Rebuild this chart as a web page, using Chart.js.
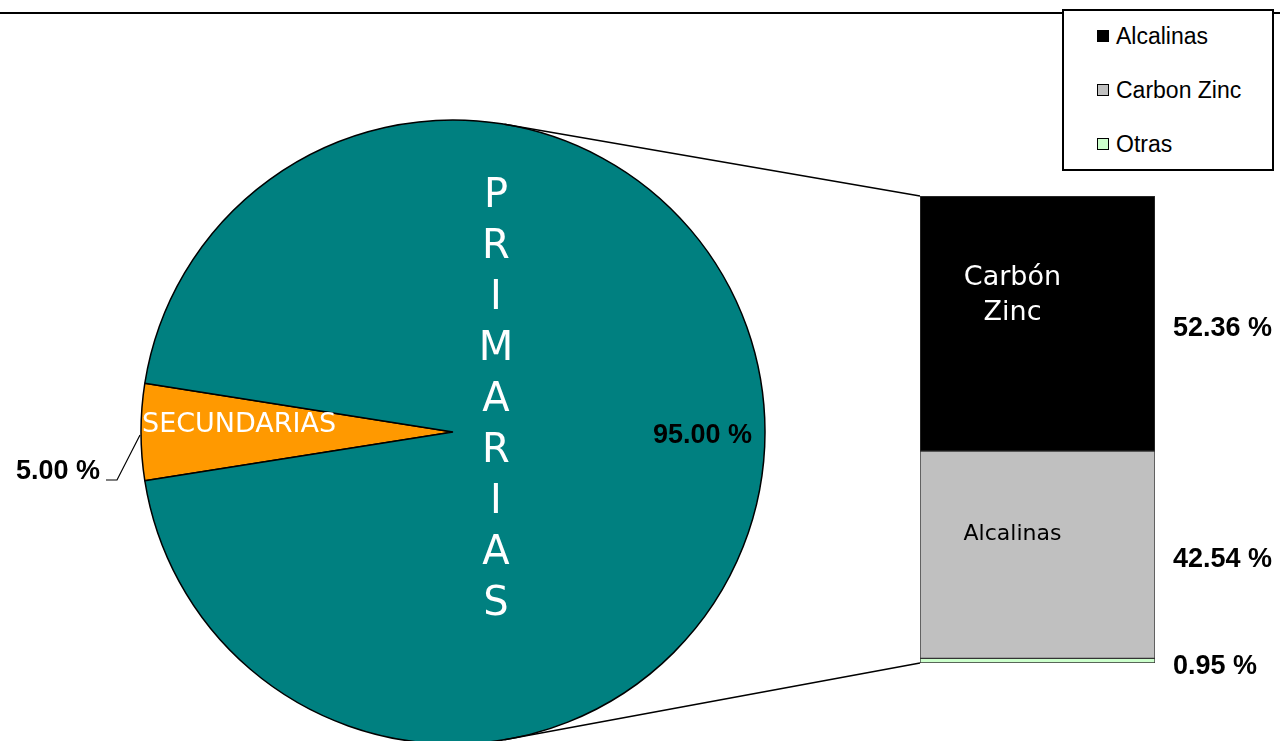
<!DOCTYPE html>
<html>
<head>
<meta charset="utf-8">
<script src="https://cdn.jsdelivr.net/npm/chart.js@4"></script>
<style>
  body { margin: 0; width: 1280px; height: 741px; overflow: hidden; background: #fff; position: relative; font-family: "Liberation Sans", Arial, sans-serif; }
  canvas { position: absolute; left: 0; top: 0; }
  #topLine { position: absolute; left: 0; top: 12px; width: 1280px; height: 2px; background: #000; }
  #legend { position: absolute; left: 1062px; top: 9px; width: 208px; height: 158px; border: 2px solid #000; background: #fff; }
  #legend div { position: absolute; left: 33px; font-size: 23px; color: #000; line-height: 23px; white-space: nowrap; }
  #legend span { display: inline-block; width: 10px; height: 10px; border: 1px solid #000; margin-right: 7px; vertical-align: 2px; }
</style>
</head>
<body>
<div id="topLine"></div>
<canvas id="pieChart" width="1280" height="741"></canvas>
<canvas id="barChart" width="1280" height="741"></canvas>
<div id="legend"></div>
<script>
// pie
const pieLabels = ["SECUNDARIAS", "PRIMARIAS"];
const pieValues = [5.00, 95.00];
const pieColors = ["#FF9900", "#008080"];

// bar (bottom to top)
const barSeries = ["Otras", "Carbon Zinc", "Alcalinas"];
const barValues = [0.95, 42.54, 52.36];
const barInside = ["", "Alcalinas", "Carbón\nZinc"];
const barColors = ["#CCFFCC", "#C0C0C0", "#000000"];

const legendOrder = ["Alcalinas", "Carbon Zinc", "Otras"];

const fmt = v => v.toFixed(2) + " %";

// legend
const legendBox = document.getElementById("legend");
legendOrder.forEach((name, k) => {
    const i = barSeries.indexOf(name);
    const row = document.createElement("div");
    row.style.top = (14 + k * 54) + "px";
    row.innerHTML = '<span style="background:' + barColors[i] + '"></span>' + name;
    legendBox.appendChild(row);
});

const pieText = {
    id: "pieText",
    afterDatasetsDraw(chart) {
        const ctx = chart.ctx;
        const arc = chart.getDatasetMeta(0).data[0];
        const cx = arc.x, cy = arc.y, r = arc.outerRadius;
        ctx.save();
        // secundarias inside slice
        ctx.fillStyle = "#fff";
        ctx.font = "27px 'DejaVu Sans'";
        ctx.textAlign = "left";
        ctx.textBaseline = "middle";
        ctx.fillText(pieLabels[0], cx - r + 1, cy - 7);
        // primarias, one letter per line
        ctx.font = "40px 'DejaVu Sans'";
        ctx.textAlign = "center";
        ctx.textBaseline = "alphabetic";
        pieLabels[1].split("").forEach((ch, k) => ctx.fillText(ch, cx + 43, cy - 225 + k * 51));
        // percentages
        ctx.fillStyle = "#000";
        ctx.font = "bold 27px 'Liberation Sans'";
        ctx.textAlign = "right";
        ctx.textBaseline = "middle";
        ctx.fillText(fmt(pieValues[1]), cx + 299, cy + 4);
        ctx.fillText(fmt(pieValues[0]), cx - 353, cy + 40);
        // leader line
        ctx.strokeStyle = "#000";
        ctx.lineWidth = 1.2;
        ctx.beginPath();
        ctx.moveTo(cx - 347, cy + 48);
        ctx.lineTo(cx - 336, cy + 48);
        ctx.lineTo(cx - 313, cy + 3);
        ctx.stroke();
        ctx.restore();
    }
};

const pieChart = new Chart(document.getElementById("pieChart"), {
    type: "pie",
    data: {
        labels: pieLabels,
        datasets: [{ data: pieValues, backgroundColor: pieColors, borderColor: "#000", borderWidth: 1.5 }]
    },
    options: {
        responsive: false,
        animation: false,
        rotation: 261,
        radius: 312,
        layout: { padding: { left: 0, right: 374, top: 123, bottom: 0 } },
        plugins: { legend: { display: false }, tooltip: { enabled: false } }
    },
    plugins: [pieText]
});

const barText = {
    id: "barText",
    afterDatasetsDraw(chart) {
        const ctx = chart.ctx;
        const area = chart.chartArea;
        ctx.save();
        // connector lines to pie
        const arc = pieChart.getDatasetMeta(0).data[0];
        const a = 80.5 * Math.PI / 180;
        const px = arc.x + arc.outerRadius * Math.cos(a);
        ctx.strokeStyle = "#000";
        ctx.lineWidth = 1.5;
        ctx.beginPath();
        ctx.moveTo(px, arc.y - arc.outerRadius * Math.sin(a));
        ctx.lineTo(area.left, area.top);
        ctx.moveTo(px, arc.y + arc.outerRadius * Math.sin(a));
        ctx.lineTo(area.left, area.bottom);
        ctx.stroke();

        barValues.forEach((v, i) => {
            const bar = chart.getDatasetMeta(i).data[0];
            const mid = (bar.y + bar.base) / 2;
            // value to the right
            ctx.fillStyle = "#000";
            ctx.font = "bold 27px 'Liberation Sans'";
            ctx.textAlign = "left";
            ctx.textBaseline = "middle";
            ctx.fillText(fmt(v), area.right + 18, mid + (i === 0 ? 6 : 5));
            // label inside
            if (barInside[i]) {
                const lines = barInside[i].split("\n");
                ctx.fillStyle = barColors[i] === "#000000" ? "#fff" : "#000";
                ctx.font = (lines.length > 1 ? 27 : 22) + "px 'DejaVu Sans'";
                ctx.textAlign = "center";
                lines.forEach((t, k) => {
                    const y = lines.length > 1 ? bar.y + 82 + k * 35 : mid - 20;
                    ctx.fillText(t, bar.x - 25, y);
                });
            }
        });
        ctx.restore();
    }
};

new Chart(document.getElementById("barChart"), {
    type: "bar",
    data: {
        labels: [""],
        datasets: barSeries.map((name, i) => ({
            label: name,
            data: [barValues[i]],
            backgroundColor: barColors[i],
            borderColor: "#333",
            borderWidth: 1,
            borderSkipped: false,
            barPercentage: 1,
            categoryPercentage: 1
        }))
    },
    options: {
        responsive: false,
        animation: false,
        layout: { padding: { left: 920, right: 125, top: 196, bottom: 78 } },
        scales: {
            x: { display: false, stacked: true },
            y: { display: false, stacked: true, min: 0, max: barValues.reduce((s, v) => s + v, 0) }
        },
        plugins: { legend: { display: false }, tooltip: { enabled: false } }
    },
    plugins: [barText]
});
</script>
</body>
</html>
